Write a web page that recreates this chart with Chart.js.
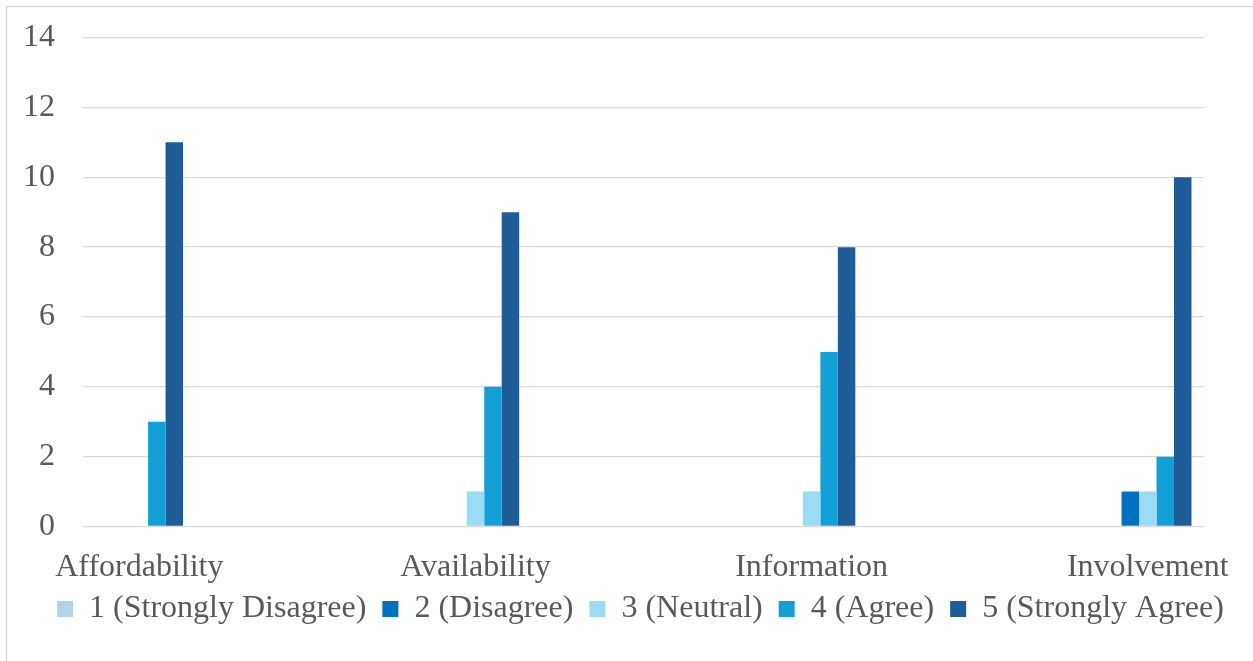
<!DOCTYPE html>
<html>
<head>
<meta charset="utf-8">
<style>
  html, body { margin: 0; padding: 0; background: #ffffff; }
  #wrap { width: 1253px; height: 661px; position: relative; }
</style>
<script src="https://cdn.jsdelivr.net/npm/chart.js@4/dist/chart.umd.min.js"></script>
</head>
<body>
<div id="wrap"><canvas id="chart" width="1253" height="661"></canvas></div>
<script>
// Survey responses per topic
const categories = ['Affordability', 'Availability', 'Information', 'Involvement'];
const seriesNames = ['1 (Strongly Disagree)', '2 (Disagree)', '3 (Neutral)', '4 (Agree)', '5 (Strongly Agree)'];
const stronglyDisagree = [0, 0, 0, 0];
const disagree = [0, 0, 0, 1];
const neutral = [0, 1, 1, 1];
const agree = [3, 4, 5, 2];
const stronglyAgree = [11, 9, 8, 10];
const yTicks = [0, 2, 4, 6, 8, 10, 12, 14];

const seriesValues = [stronglyDisagree, disagree, neutral, agree, stronglyAgree];
const seriesColors = ['#b4d1ec', '#0070c0', '#9adbf6', '#12a0d7', '#1f5d99'];

const FONT = '"Liberation Serif", "Times New Roman", serif';
const FONT_SIZE = 32;
const TEXT = '#595959';
const GRID = '#d9d9d9';

// Light frame on the left and top edges
const framePlugin = {
  id: 'frame',
  beforeDraw(chart) {
    const ctx = chart.ctx;
    ctx.save();
    ctx.strokeStyle = GRID;
    ctx.lineWidth = 1.5;
    ctx.beginPath();
    ctx.moveTo(6.5, chart.height);
    ctx.lineTo(6.5, 6.5);
    ctx.lineTo(chart.width, 6.5);
    ctx.stroke();
    ctx.restore();
  }
};

// Pull the legend row up close under the category labels and centre it on the plot
const legendShift = {
  id: 'legendShift',
  afterLayout(chart) {
    const lg = chart.legend;
    if (!lg) return;
    const dy = -15.5, dx = 37.5;
    lg.top += dy; lg.bottom += dy;
    lg.left += dx; lg.right += dx;
  }
};

new Chart(document.getElementById('chart'), {
  type: 'bar',
  data: {
    datasets: seriesNames.map((name, s) => ({
      label: name,
      data: seriesValues[s].map((v, i) => ({ x: i, y: v })),
      backgroundColor: seriesColors[s],
      borderWidth: 0,
      categoryPercentage: 0.26,
      barPercentage: 1.0
    }))
  },
  options: {
    responsive: false,
    animation: false,
    layout: { padding: { top: 10, right: 47, left: 0, bottom: 10.5 } },
    plugins: {
      tooltip: { enabled: false },
      legend: {
        position: 'bottom',
        labels: {
          font: { family: FONT, size: FONT_SIZE },
          color: TEXT,
          boxWidth: 16,
          boxHeight: 16,
          padding: 16
        }
      }
    },
    scales: {
      x: {
        type: 'linear',
        offset: false,
        min: -0.1676,
        max: 3.167,
        afterBuildTicks(scale) {
          scale.ticks = categories.map((_, i) => ({ value: i }));
        },
        afterFit(scale) { scale.height = 66; },
        ticks: {
          autoSkip: false,
          maxRotation: 0,
          padding: 22,
          font: { family: FONT, size: FONT_SIZE },
          color: TEXT,
          callback: (v) => categories[v]
        },
        grid: { display: false, drawTicks: false, offset: false },
        border: { display: false }
      },
      y: {
        min: 0,
        max: 14,
        afterBuildTicks(scale) {
          scale.ticks = yTicks.map(v => ({ value: v }));
        },
        afterFit(scale) { scale.width = 83; },
        ticks: {
          padding: 28,
          font: { family: FONT, size: FONT_SIZE, lineHeight: 0.6 },
          color: TEXT
        },
        grid: { color: GRID, lineWidth: 1.3, drawTicks: false },
        border: { display: false }
      }
    }
  },
  plugins: [framePlugin, legendShift]
});
</script>
</body>
</html>
